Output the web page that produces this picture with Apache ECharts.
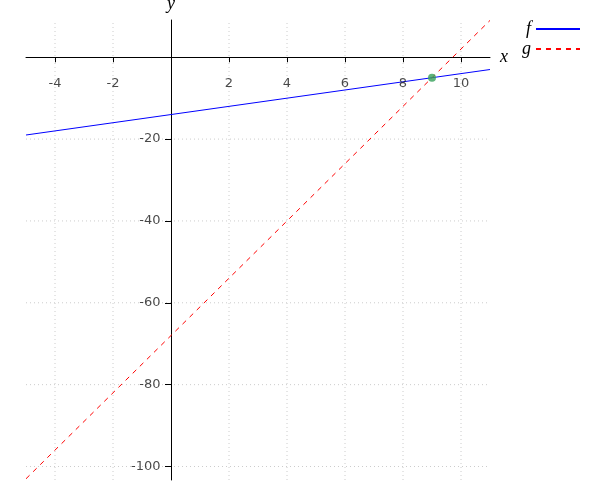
<!DOCTYPE html>
<html>
<head>
<meta charset="utf-8">
<script src="https://cdn.jsdelivr.net/npm/echarts@6/dist/echarts.min.js"></script>
<style>html,body{margin:0;padding:0;background:#fff}#c{width:600px;height:500px}</style>
</head>
<body>
<div id="c"></div>
<script>
// Data
const xEnds = [-5, 11];
const fValues = [-19, -3];
const gValues = [-103, 9];
const intersection = [9, -5];
const xTicks = [-4, -2, 2, 4, 6, 8, 10];
const yTicks = [-20, -40, -60, -80, -100];
const xRange = [-5, 11];
const yRange = [-103.3, 9.1];

const chart = echarts.init(document.getElementById('c'), null, {renderer: 'canvas'});
const labelFont = {fontFamily: 'DejaVu Sans', fontSize: 13, color: '#1a1a1a'};
const nameFont = {fontFamily: 'Liberation Serif', fontStyle: 'italic', fontSize: 18, color: '#000'};
const gridStyle = {color: '#cccccc', type: [1, 3], width: 1};

// Dotted grid lines as two-point line series built from the tick arrays
const gridSeries = xTicks.map(v => ({
  type: 'line', silent: true, z: 1, symbol: 'none', showSymbol: false,
  data: [[v, yRange[0]], [v, yRange[1]]], lineStyle: gridStyle
})).concat(yTicks.map(v => ({
  type: 'line', silent: true, z: 1, symbol: 'none', showSymbol: false,
  data: [[xRange[0], v], [xRange[1], v]], lineStyle: gridStyle
})));

chart.setOption({
  animation: false,
  grid: {left: 26, right: 110, top: 20, bottom: 20, containLabel: false, outerBoundsMode: 'none'},
  legend: {
    data: ['f', 'g'],
    orient: 'vertical',
    left: 517, top: 15,
    align: 'right',
    itemWidth: 44, itemHeight: 12, itemGap: 2,
    itemStyle: {color: 'rgba(0,0,0,0)', borderWidth: 0, opacity: 0},
    textStyle: nameFont,
    selectedMode: false
  },
  xAxis: {
    type: 'value', min: xRange[0], max: xRange[1], z: 5,
    name: 'x', nameLocation: 'end', nameGap: 10, nameTextStyle: nameFont,
    axisLine: {onZero: true, lineStyle: {color: '#000', width: 1}},
    axisTick: {show: true, length: 5, customValues: xTicks, lineStyle: {color: '#000'}},
    axisLabel: {show: false},
    splitLine: {show: false}
  },
  yAxis: {
    type: 'value', min: yRange[0], max: yRange[1], z: 5,
    name: 'y', nameLocation: 'end', nameGap: 7, nameTextStyle: nameFont,
    axisLine: {onZero: true, lineStyle: {color: '#000', width: 1}},
    axisTick: {show: true, length: 6, customValues: yTicks, lineStyle: {color: '#000'}},
    axisLabel: {show: false},
    splitLine: {show: false}
  },
  series: gridSeries.concat([
    {
      name: 'xTickLabels', type: 'scatter', z: 8, silent: true,
      symbolSize: 1, itemStyle: {color: 'rgba(0,0,0,0)'},
      data: xTicks.map(v => [v, 0]),
      label: Object.assign({show: true, position: 'bottom', distance: 19, formatter: p => String(p.value[0])}, labelFont)
    },
    {
      name: 'yTickLabels', type: 'scatter', z: 8, silent: true,
      symbolSize: 1, itemStyle: {color: 'rgba(0,0,0,0)'},
      data: yTicks.map(v => [0, v]),
      label: Object.assign({show: true, position: 'left', distance: 10, formatter: p => String(p.value[1])}, labelFont)
    },
    {
      name: 'f', type: 'line', z: 6, symbol: 'none', showSymbol: false,
      data: xEnds.map((x, i) => [x, fValues[i]]),
      lineStyle: {color: '#0000ff', width: 1}, itemStyle: {color: '#0000ff'}
    },
    {
      name: 'g', type: 'line', z: 6, symbol: 'none', showSymbol: false,
      data: xEnds.map((x, i) => [x, gValues[i]]),
      lineStyle: {color: '#ff0000', width: 1, type: [5, 5]}, itemStyle: {color: '#ff0000'}
    },
    {
      name: 'intersection', type: 'scatter', z: 7, symbolSize: 8,
      data: [intersection],
      itemStyle: {color: '#36a05a'}
    }
  ])
});
</script>
</body>
</html>
